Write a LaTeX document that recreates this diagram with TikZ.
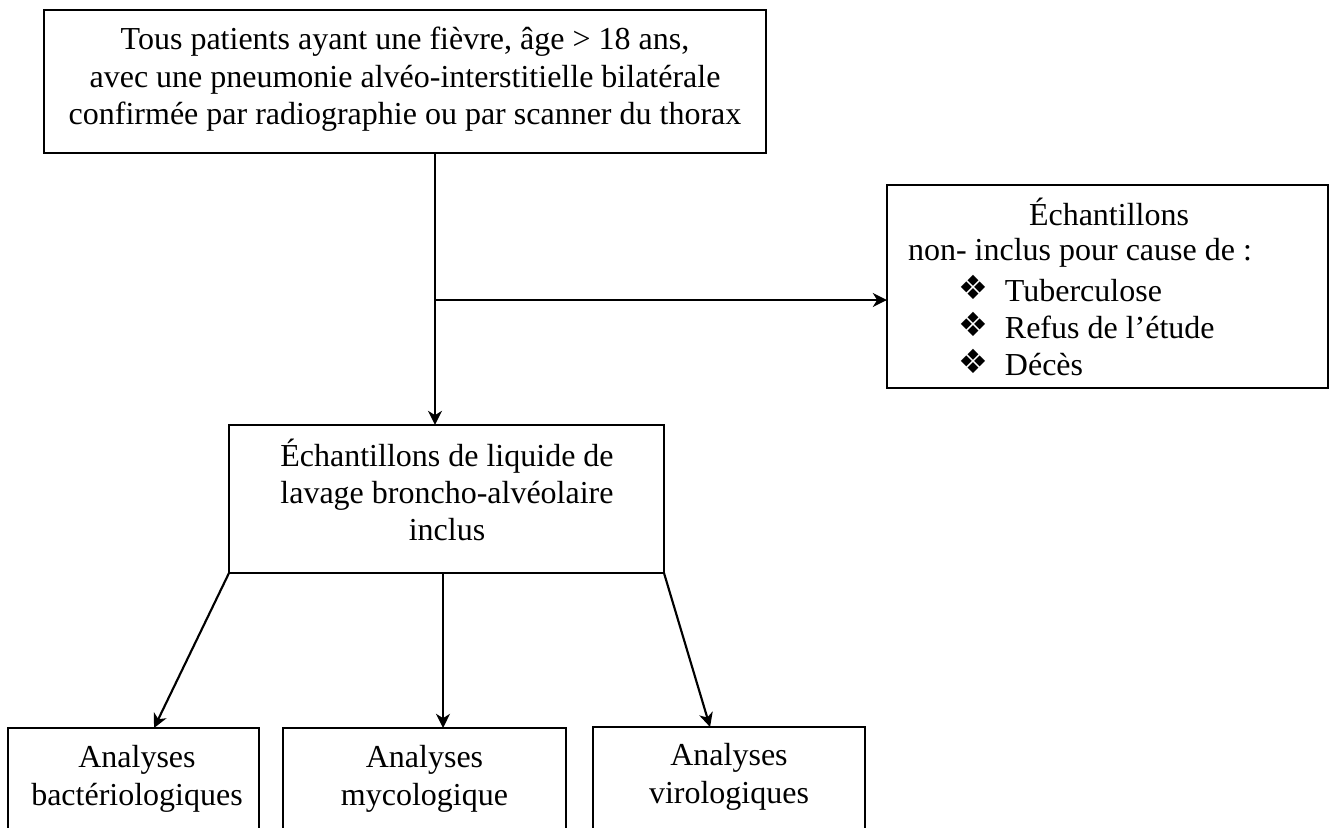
\documentclass[tikz,border=0pt]{standalone}
\usepackage{fontspec}
\setmainfont{Liberation Serif}
\newfontfamily\symfont{DejaVu Sans}
\usetikzlibrary{arrows.meta}
\newcommand{\bul}{\makebox[17.25pt][l]{\raisebox{0.8pt}{\symfont\fontsize{12.5}{14}\selectfont ❖}}}
\begin{document}
\begin{tikzpicture}[x=0.375pt,y=-0.375pt,
  box/.style={draw=black, line width=0.45pt, inner sep=0pt, outer sep=0pt, rectangle},
  txt/.style={inner sep=0pt, outer sep=0pt, align=center, font=\fontsize{12}{13.9}\selectfont},
  lst/.style={inner sep=0pt, outer sep=0pt, align=left, font=\fontsize{12}{13.9}\selectfont},
  arr/.style={-{Stealth[length=5.3pt,width=5.2pt,inset=1.6pt]}, line width=0.8pt},
]
\useasboundingbox (0,0) rectangle (1336,827);
\clip (0,0) rectangle (1336,827);
% boxes
\node[box, minimum width=722*0.375pt, minimum height=143*0.375pt] (top) at (405,81.5) {};
\node[box, minimum width=441*0.375pt, minimum height=203*0.375pt] (excl) at (1107.5,286.5) {};
\node[box, minimum width=435*0.375pt, minimum height=148*0.375pt] (mid) at (446.5,499) {};
\node[box, minimum width=251*0.375pt, minimum height=132*0.375pt] (b1) at (133.5,794) {};
\node[box, minimum width=283*0.375pt, minimum height=132*0.375pt] (b2) at (424.5,794) {};
\node[box, minimum width=272*0.375pt, minimum height=133*0.375pt] (b3) at (729,793.5) {};
% texts
\node[txt, anchor=north] (topt) at (405,24) {\strut Tous patients ayant une fièvre, âge > 18 ans,\\avec une pneumonie alvéo-interstitielle bilatérale\\confirmée par radiographie ou par scanner du thorax\strut};
\node[txt, anchor=north] (exclt) at (1109,198) {\strut Échantillons\strut};
\node[lst, anchor=north west] (excll) at (908,235) {\strut non- inclus pour cause de :\\
\hspace*{19.1pt}\bul Tuberculose\\
\hspace*{19.1pt}\bul Refus de l’étude\\
\hspace*{19.1pt}\bul Décès\strut};
\node[txt, anchor=north] (midt) at (447,439) {\strut Échantillons de liquide de\\lavage broncho-alvéolaire\\inclus\strut};
\node[txt, anchor=north] (b1t) at (137,742) {\strut Analyses\\bactériologiques\strut};
\node[txt, anchor=north] (b2t) at (424.5,742) {\strut Analyses\\mycologique\strut};
\node[txt, anchor=north] (b3t) at (729,740) {\strut Analyses\\virologiques\strut};
% connectors
\coordinate (br) at (435,300);
\draw[arr] (top.south -| br) -- (mid.north -| br);
\draw[arr] (br) -- (excl.west |- br);
\draw[arr] (mid.south west) -- ([xshift=7.7pt]b1.north);
\draw[arr] ([xshift=-1.3pt]mid.south) -- ([xshift=-1.3pt]mid.south |- b2.north);
\draw[arr] (mid.south east) -- ([xshift=-7.1pt]b3.north);
\end{tikzpicture}
\end{document}
